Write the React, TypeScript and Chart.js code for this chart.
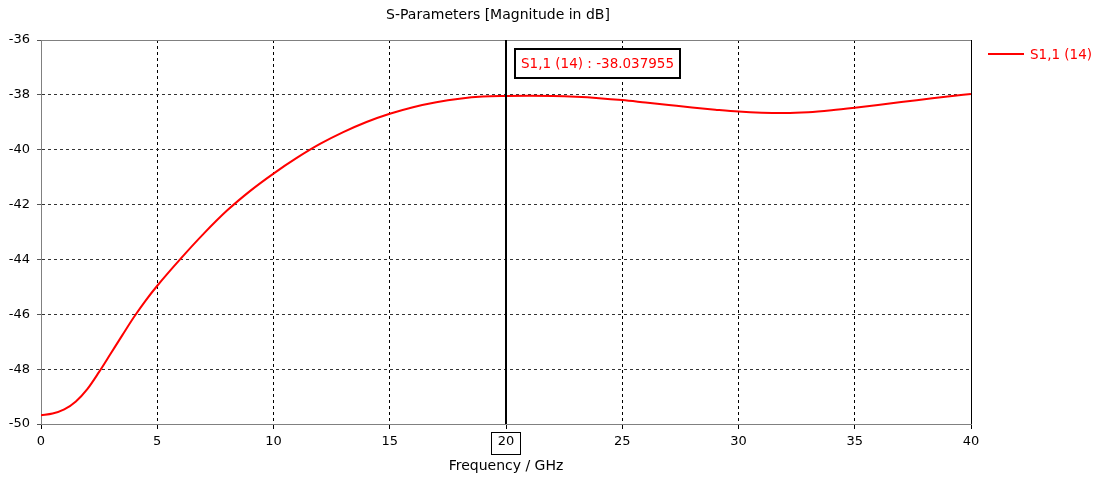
import React, { useEffect, useRef } from "react";
import { Chart, registerables } from "chart.js";

Chart.register(...registerables);

// ---- data ----
const frequencies = [
  0, 0.5, 1, 1.5, 2, 2.5, 3, 3.5, 4, 4.5, 5, 6, 7, 8, 9, 10, 11, 12, 13, 14, 15,
  16, 17, 18, 19, 20, 21, 22, 23, 24, 25, 26, 27, 28, 29, 30, 31, 32, 33, 34, 35,
  36, 37, 38, 39, 40,
];
const s11Values = [
  -49.68, -49.62, -49.47, -49.18, -48.72, -48.1, -47.43, -46.76, -46.1, -45.5,
  -44.96, -43.98, -43.06, -42.22, -41.5, -40.87, -40.3, -39.79, -39.36, -38.99,
  -38.69, -38.45, -38.27, -38.14, -38.06, -38.038, -38.03, -38.04, -38.07, -38.12,
  -38.19, -38.28, -38.37, -38.46, -38.54, -38.61, -38.65, -38.66, -38.63, -38.56,
  -38.47, -38.37, -38.26, -38.16, -38.06, -37.97,
];
const xTickValues = [0, 5, 10, 15, 20, 25, 30, 35, 40];
const yTickValues = [-36, -38, -40, -42, -44, -46, -48, -50];
const chartTitle = "S-Parameters [Magnitude in dB]";
const xAxisTitle = "Frequency / GHz";
const seriesLabel = "S1,1 (14)";
const markerFreq = 20;
const markerValue = -38.037955;

const FONT_FAMILY = '"DejaVu Sans", sans-serif';
const TICK_SIZE = 13;
const TITLE_FONT = `14px ${FONT_FAMILY}`;
const LABEL_FONT = `13.5px ${FONT_FAMILY}`;
const RED = "#ff0000";

const overlayPlugin = {
  id: "overlay",
  afterDatasetsDraw(chart: any) {
    const { ctx, chartArea: a, scales } = chart;
    const x = scales.x;
    ctx.save();
    // top frame (gray)
    ctx.lineWidth = 1;
    ctx.strokeStyle = "#808080";
    ctx.beginPath();
    ctx.moveTo(a.left, Math.round(a.top) + 0.5);
    ctx.lineTo(a.right, Math.round(a.top) + 0.5);
    ctx.stroke();
    // right frame (black)
    ctx.strokeStyle = "#000";
    ctx.beginPath();
    ctx.moveTo(Math.round(a.right) + 0.5, a.top);
    ctx.lineTo(Math.round(a.right) + 0.5, a.bottom);
    ctx.stroke();
    // marker line
    const mx = Math.round(x.getPixelForValue(markerFreq));
    ctx.lineWidth = 2;
    ctx.beginPath();
    ctx.moveTo(mx, a.top);
    ctx.lineTo(mx, a.bottom);
    ctx.stroke();
    // annotation box
    ctx.font = LABEL_FONT;
    const label = `${seriesLabel} : ${markerValue.toFixed(6)}`;
    const tw = ctx.measureText(label).width;
    const bx = mx + 9;
    const by = Math.round(a.top) + 9;
    const bw = Math.round(tw + 12);
    const bh = 29;
    ctx.fillStyle = "#fff";
    ctx.fillRect(bx, by, bw, bh);
    ctx.lineWidth = 2;
    ctx.strokeStyle = "#000";
    ctx.strokeRect(bx, by, bw, bh);
    ctx.fillStyle = RED;
    ctx.textAlign = "left";
    ctx.textBaseline = "middle";
    ctx.fillText(label, bx + 6, by + bh / 2 + 1);
    ctx.restore();
  },
  afterDraw(chart: any) {
    const { ctx, chartArea: a, scales } = chart;
    const x = scales.x;
    ctx.save();
    ctx.textBaseline = "middle";
    // title
    ctx.font = TITLE_FONT;
    ctx.fillStyle = "#000";
    ctx.textAlign = "center";
    ctx.fillText(chartTitle, (a.left + a.right) / 2 - 8, 15);
    // x axis title
    ctx.fillText(xAxisTitle, (a.left + a.right) / 2, a.bottom + 42);
    // boxed marker tick label
    const mx = Math.round(x.getPixelForValue(markerFreq));
    ctx.lineWidth = 1;
    ctx.strokeStyle = "#000";
    ctx.strokeRect(mx - 14.5, Math.round(a.bottom) + 8.5, 29, 22);
    // legend
    ctx.font = LABEL_FONT;
    const ly = Math.round(a.top) + 14;
    ctx.strokeStyle = RED;
    ctx.lineWidth = 2;
    ctx.beginPath();
    ctx.moveTo(a.right + 17, ly);
    ctx.lineTo(a.right + 53, ly);
    ctx.stroke();
    ctx.fillStyle = RED;
    ctx.textAlign = "left";
    ctx.fillText(seriesLabel, a.right + 59, ly + 1);
    ctx.restore();
  },
};

export default function App() {
  const canvasRef = useRef<HTMLCanvasElement | null>(null);

  useEffect(() => {
    document.body.style.margin = "0";
    const canvas = canvasRef.current;
    if (!canvas) return;
    const chart = new Chart(canvas, {
      type: "line",
      data: {
        datasets: [
          {
            label: seriesLabel,
            data: frequencies.map((f, i) => ({ x: f, y: s11Values[i] })),
            borderColor: RED,
            borderWidth: 2,
            pointRadius: 0,
            cubicInterpolationMode: "monotone",
            fill: false,
          },
        ],
      },
      options: {
        responsive: false,
        animation: false,
        devicePixelRatio: 1,
        layout: { padding: { top: 40, right: 131, left: 0, bottom: 0 } },
        plugins: {
          legend: { display: false },
          title: { display: false },
          tooltip: { enabled: false },
        },
        scales: {
          x: {
            type: "linear",
            min: 0,
            max: 40,
            afterBuildTicks: (s: any) => {
              s.ticks = xTickValues.map((v) => ({ value: v }));
            },
            afterFit: (s: any) => {
              s.height = 55;
            },
            ticks: {
              font: { family: FONT_FAMILY, size: TICK_SIZE },
              color: "#000",
              padding: 5,
              maxRotation: 0,
              autoSkip: false,
              callback: (v: any) => String(v),
            },
            grid: {
              color: (c: any) =>
                c.tick && (c.tick.value === 0 || c.tick.value === 40 || c.tick.value === markerFreq)
                  ? "rgba(0,0,0,0)"
                  : "#000",
              tickColor: "#000",
              tickLength: 5,
              tickBorderDash: [],
              lineWidth: 1,
            },
            border: { display: true, color: "#808080", width: 1, dash: [3, 3] },
          },
          y: {
            type: "linear",
            min: -50,
            max: -36,
            afterBuildTicks: (s: any) => {
              s.ticks = yTickValues.map((v) => ({ value: v }));
            },
            afterFit: (s: any) => {
              s.width = 41;
            },
            ticks: {
              font: { family: FONT_FAMILY, size: TICK_SIZE },
              color: "#000",
              padding: 7,
              autoSkip: false,
              callback: (v: any) => String(v),
            },
            grid: {
              color: (c: any) =>
                c.tick && (c.tick.value === -36 || c.tick.value === -50)
                  ? "rgba(0,0,0,0)"
                  : "#333",
              tickColor: "#555",
              tickLength: 4,
              tickBorderDash: [],
              lineWidth: 1,
            },
            border: { display: true, color: "#808080", width: 1, dash: [3, 3] },
          },
        },
      },
      plugins: [overlayPlugin],
    } as any);
    return () => chart.destroy();
  }, []);

  return (
    <div style={{ width: 1102, height: 479, background: "#fff" }}>
      <canvas ref={canvasRef} width={1102} height={479} style={{ display: "block" }} />
    </div>
  );
}
